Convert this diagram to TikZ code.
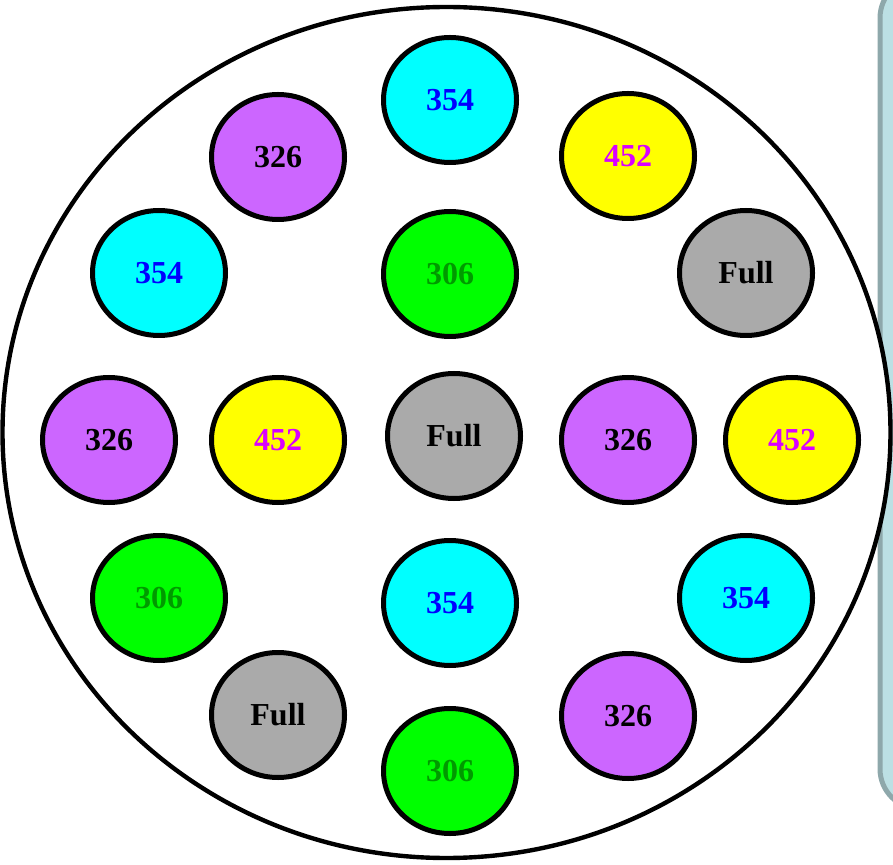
\documentclass[tikz,border=0pt]{standalone}
\usepackage{fontspec}
\setmainfont{Liberation Serif}
\usepackage{tikz}
\usetikzlibrary{shapes.geometric}
\definecolor{lilac}{HTML}{CC66FF}
\definecolor{aqua}{HTML}{00FFFF}
\definecolor{lemon}{HTML}{FFFF00}
\definecolor{lime}{HTML}{00FF00}
\definecolor{ash}{HTML}{AAAAAA}
\definecolor{magtext}{HTML}{D800FF}
\definecolor{greentext}{HTML}{009A00}
\definecolor{panelfill}{HTML}{BCE0E4}
\definecolor{paneledge}{HTML}{8EA8AB}

\begin{document}
\begin{tikzpicture}[
      x=0.5pt, y=-0.5pt,
      disk/.style={draw=black, line width=2.5pt, ellipse, inner sep=0pt,
                   minimum width=66.5pt, minimum height=62.5pt,
                   font=\fontsize{16}{19}\selectfont\bfseries},
      s326/.style={disk, fill=lilac, text=black},
      s354/.style={disk, fill=aqua, text=blue},
      s452/.style={disk, fill=lemon, text=magtext},
      s306/.style={disk, fill=lime, text=greentext},
      sfull/.style={disk, fill=ash, text=black}
    ]
    \path[use as bounding box, clip] (0,0) rectangle (893,865);
    % panel behind the plate
    \draw[line width=2.5pt, draw=paneledge, fill=panelfill, rounded corners=20pt]
      (880,-22) rectangle (1000,809);
    \node[draw=black, line width=2.2pt, fill=white, ellipse, inner sep=0pt,
          minimum width=444pt, minimum height=425.5pt] (plate) at (446.5,432.5) {};
    % row 1
    \node[s354] (top) at (450,100) {354};
    \node[s326] (ul) at (278,157) {326};
    \node[s452] (ur) at (628,156) {452};
    % row 2
    \node[s354] (ml) at (159,273) {354};
    \node[s306] (mc) at (450,274) {306};
    \node[sfull] (mr) at (746,273) {Full};
    % row 3
    \node[s326] (cl) at (109,440) {326};
    \node[s452] (cli) at (278,440) {452};
    \node[sfull] (center) at (454,436) {Full};
    \node[s326] (cri) at (628,440) {326};
    \node[s452] (cr) at (792,440) {452};
    % row 4
    \node[s306] (ll) at (159,598) {306};
    \node[s354] (lc) at (450,603) {354};
    \node[s354] (lr) at (746,598) {354};
    % row 5
    \node[sfull] (bl) at (278,715) {Full};
    \node[s326] (br) at (628,716) {326};
    \node[s306] (bottom) at (450,771) {306};
  \end{tikzpicture}
\end{document}
